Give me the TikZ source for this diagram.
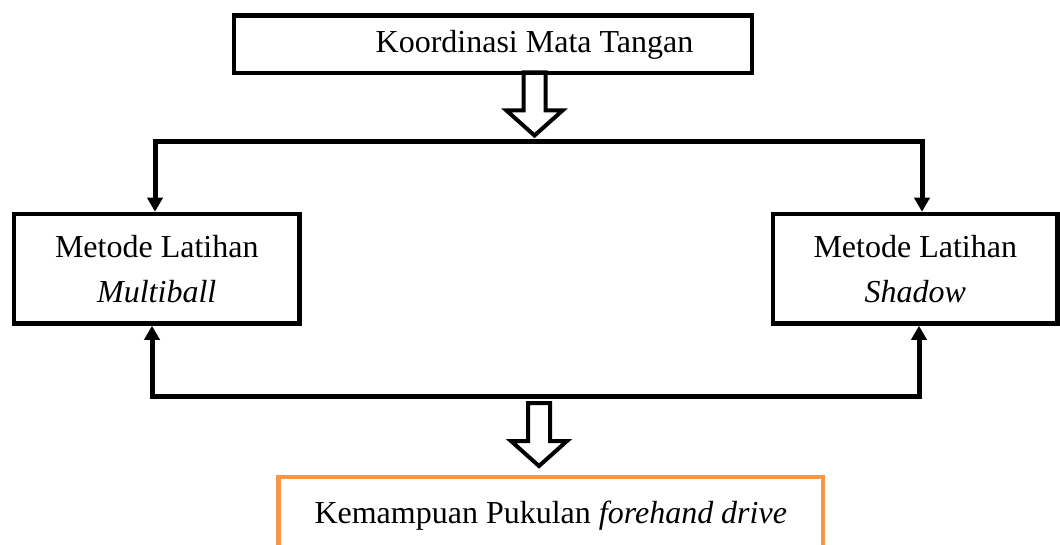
\documentclass[tikz,border=0pt]{standalone}
\usepackage{fontspec}
\setmainfont{Liberation Serif}
\usepackage{tikz}
\usetikzlibrary{arrows.meta,calc}
\definecolor{accentorange}{HTML}{F79646}
\tikzset{
	flow diagram/.style={
		x=1pt, y=-1pt,
		font=\fontsize{32}{45}\selectfont,
		line join=miter},
	box/.style={draw, line width=4.5pt, align=center, inner sep=0pt},
	link/.style={line width=5pt,
		{Triangle[width=15pt,length=14pt]}-{Triangle[width=15pt,length=14pt]}},
	hollow arrow/.pic={
		\draw[line width=4pt] (-11,0) -- (-11,38) -- (-28,38) -- (0,63)
			-- (28,38) -- (11,38) -- (11,0) -- cycle;}
}

\begin{document}
\begin{tikzpicture}[flow diagram]
   \useasboundingbox (0,0) rectangle (1060,545);
   \clip (0,0) rectangle (1060,545);
   \node[box, minimum width=518pt, minimum height=57.5pt] (koord) at (493,44.5) {};
   \node (koordlabel) at (534.5,44.5) {Koordinasi Mata Tangan};
   \node[box, minimum width=285.5pt, minimum height=109.5pt] (multi) at (156.75,268.75) {Metode Latihan\\\textit{Multiball}};
   \node[box, minimum width=284.5pt, minimum height=109.5pt] (shadow) at (915.25,268.75) {Metode Latihan\\\textit{Shadow}};
   \node[box, draw=accentorange, minimum width=544.5pt, minimum height=77pt] (drive) at (550.75,515.5) {Kemampuan Pukulan \textit{forehand drive}};
   \coordinate (splitL) at (155,142);
   \coordinate (splitR) at (922,142);
   \coordinate (joinL) at (152,396);
   \coordinate (joinR) at (919,396);
   \draw[link] (multi.north -| splitL) -- (splitL) -- (splitR) -- (shadow.north -| splitR);
   \draw[link] (multi.south -| joinL) -- (joinL) -- (joinR) -- (shadow.south -| joinR);
   \pic at ($(koordlabel.center |- koord.south)+(0,-3)$) {hollow arrow};
   \path (539,403) pic {hollow arrow};
\end{tikzpicture}
\end{document}
